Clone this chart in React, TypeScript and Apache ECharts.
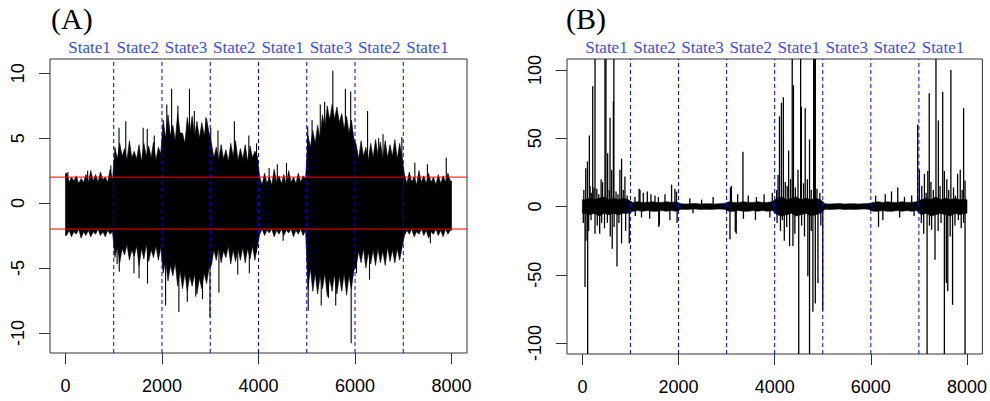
import React, { useEffect, useRef } from "react";
import * as echarts from "echarts";

// ---------- data ----------
const A_BIN = 50; // panel A envelope: one value per 50 time steps
const B_BIN = 100; // panel B band: one value per 100 time steps
const xTicks = [0, 2000, 4000, 6000, 8000];
const aYTicks = [-10, -5, 0, 5, 10];
const bYTicks = [-100, -50, 0, 50, 100];
const boundaries = [1000, 2000, 3000, 4000, 5000, 6000, 7000];
const stateCenters = [500, 1500, 2500, 3500, 4500, 5500, 6500, 7500];
const stateLabels = ["State1", "State2", "State3", "State2", "State1", "State3", "State2", "State1"];
const thresholds = [2, -2];

// Panel A: upper / lower envelope of the dense series
const aHi = [
  2.3, 1.6, 2.0, 1.7, 2.1, 1.5, 1.9, 1.6, 2.2, 1.6, 2.5, 1.7, 2.2, 1.6, 2.4, 1.8, 2.0, 1.6, 2.6, 1.8,
  4.3, 3.4, 4.6, 3.6, 4.2, 3.3, 4.8, 3.5, 4.0, 3.4, 4.5, 3.2, 4.6, 3.6, 4.4, 3.5, 4.7, 3.3, 4.3, 3.8,
  6.4, 5.0, 6.8, 5.2, 6.0, 4.8, 6.9, 5.4, 5.4, 4.6, 6.6, 5.3, 6.7, 5.1, 6.3, 5.0, 6.2, 5.2, 6.5, 5.4,
  4.6, 3.5, 4.3, 3.3, 4.5, 3.4, 4.1, 3.2, 4.6, 3.6, 4.8, 3.3, 4.2, 3.4, 4.5, 3.2, 4.4, 3.5, 4.0, 3.6,
  2.0, 1.4, 2.3, 1.5, 2.0, 1.4, 2.6, 1.6, 2.1, 1.5, 2.2, 1.4, 2.5, 1.6, 2.0, 1.5, 2.3, 1.6, 2.1, 1.9,
  5.2, 4.3, 5.6, 4.6, 6.0, 5.0, 6.8, 5.8, 7.5, 6.4, 7.6, 6.5, 7.4, 6.2, 6.9, 5.7, 6.7, 5.4, 6.4, 5.0,
  4.5, 3.4, 4.8, 3.6, 4.3, 3.3, 4.6, 3.5, 4.9, 3.7, 4.7, 3.4, 4.8, 3.5, 4.5, 3.6, 4.9, 3.4, 4.6, 3.5,
  2.2, 1.5, 2.4, 1.6, 2.0, 1.4, 2.5, 1.6, 2.1, 1.5, 2.3, 1.6, 2.0, 1.4, 2.2, 1.5, 2.1, 1.6, 2.3, 1.7,
];
const aLo = [
  -2.5, -2.1, -2.6, -2.2, -2.4, -2.0, -2.7, -2.2, -2.5, -2.1, -2.6, -2.2, -2.4, -2.0, -2.5, -2.2, -2.6, -2.1, -2.4, -2.2,
  -4.2, -3.3, -4.6, -3.5, -4.0, -3.2, -4.4, -3.6, -4.1, -3.3, -4.8, -3.5, -4.3, -3.2, -4.5, -3.6, -4.2, -3.3, -4.4, -3.4,
  -5.4, -4.4, -6.0, -4.8, -5.6, -4.6, -6.4, -5.2, -6.6, -5.4, -6.8, -5.6, -6.4, -5.5, -7.0, -5.8, -6.6, -5.4, -6.2, -5.0,
  -4.8, -3.6, -4.4, -3.4, -4.6, -3.7, -4.2, -3.3, -4.7, -3.6, -4.5, -3.5, -4.4, -3.4, -4.6, -3.5, -4.3, -3.3, -4.4, -3.4,
  -2.4, -2.0, -2.5, -2.1, -2.3, -2.0, -2.6, -2.1, -2.4, -2.0, -2.5, -2.1, -2.3, -2.0, -2.6, -2.1, -2.4, -2.0, -2.5, -2.1,
  -6.6, -5.0, -6.8, -5.4, -7.0, -5.6, -6.6, -5.4, -7.2, -5.8, -6.8, -5.5, -7.0, -5.6, -6.8, -5.4, -7.1, -5.6, -6.6, -5.2,
  -4.9, -3.7, -4.6, -3.5, -5.0, -3.8, -4.7, -3.6, -4.8, -3.5, -4.6, -3.7, -4.8, -3.4, -4.5, -3.6, -4.6, -3.5, -4.4, -3.4,
  -2.5, -2.1, -2.4, -2.0, -2.6, -2.2, -2.4, -2.0, -2.5, -2.1, -2.7, -2.2, -2.4, -2.0, -2.5, -2.1, -2.6, -2.0, -2.4, -2.1,
];
// Panel A: isolated spikes (time, value)
const aSpikeX = [
  50, 460, 940, 1110, 1250, 1610, 1695, 1840, 2100, 2200, 2330, 2570, 2670, 2910,
  3010, 3160, 3500, 3800, 3960, 4220, 4390, 4580, 5020, 5110, 5280, 5370, 5540,
  5800, 5910, 6260, 6490, 6580, 6970, 7240, 7500, 7890,
  1070, 1115, 1420, 1525, 1700, 2075, 2350, 2525, 2700, 2840, 2995, 3180, 3570,
  3810, 3950, 4510, 5030, 5300, 5450, 5600, 5920, 6030, 6300, 7560,
];
const aSpikeY = [
  2.4, 2.5, 2.9, 5.8, 6.3, 5.8, 5.7, 5.2, 7.6, 8.8, 7.5, 8.8, 7.1, 6.6,
  5.8, 5.6, 6.3, 5.2, 4.6, 2.7, 3.0, 3.1, 5.9, 6.4, 7.6, 7.8, 10.2,
  8.8, 8.6, 7.1, 5.0, 5.3, 5.1, 3.1, 3.0, 3.5,
  -4.7, -5.3, -5.4, -5.8, -6.2, -7.9, -8.4, -7.6, -7.2, -7.4, -8.8, -6.9, -5.5,
  -5.4, -3.8, -2.9, -8.3, -7.9, -7.3, -7.9, -10.8, -5.4, -5.9, -3.1,
];

// Panel B: band around zero
const bHi = [
  5, 6, 5, 6, 7, 5, 6, 5, 6, 5,
  3, 3.5, 3, 3, 3.5, 3, 3, 3.5, 3, 3.5,
  2, 1.8, 2, 2.2, 1.8, 2, 2, 1.8, 2, 2.2,
  3.5, 3, 3, 3.5, 3, 3, 3.5, 3, 3, 3.5,
  6, 7, 5, 6, 7, 5, 6, 5, 6, 5,
  2, 1.8, 2, 2.2, 1.8, 2, 2, 1.8, 2, 2.2,
  3, 3.5, 3, 3.5, 3, 3, 3.5, 3, 3, 3.5,
  5, 6, 5, 7, 5, 6, 5, 6, 5, 5,
];
const bLo = [
  -5, -6, -5, -7, -5, -6, -5, -6, -5, -5,
  -3.5, -3, -3.5, -3, -3.5, -3.5, -3, -3.5, -3, -3.5,
  -2, -2.2, -2, -1.8, -2.2, -2, -2.2, -2, -1.8, -2,
  -3.5, -3.5, -3, -3.5, -3.5, -3, -3.5, -3, -3.5, -3,
  -6, -7, -6, -5, -7, -6, -5, -7, -6, -5,
  -2, -2.2, -2, -1.8, -2.2, -2, -2.2, -2, -1.8, -2,
  -3.5, -3.5, -3, -3.5, -3.5, -3, -3.5, -3, -3.5, -3,
  -6, -5, -7, -6, -5, -6, -7, -5, -6, -5,
];
// Panel B: spikes (time, value); values beyond ±108 are cut by the frame
const bSpikeX = [
  70, 105, 145, 215, 263, 390, 470, 490, 525, 575, 610, 645, 655, 780, 815, 885,
  1180, 1855, 2720, 3080, 3340, 4070, 4100, 4140, 4180, 4290, 4365, 4390, 4485,
  4540, 4555, 4635, 4725, 4810, 4830, 4845, 6560, 6975, 7010, 7115, 7185, 7215,
  7355, 7405, 7495, 7530, 7665, 7805, 7860, 7930, 7960,
  30, 160, 185, 240, 300, 340, 420, 560, 700, 740, 850, 930,
  4040, 4220, 4260, 4330, 4430, 4600, 4680, 4760, 4880, 4940,
  7060, 7150, 7250, 7300, 7440, 7580, 7620, 7720, 7760, 7900,
  1093, 1198, 1267, 1350, 1426, 1510, 1580, 1718, 1924, 1958, 2235, 2480, 3100, 3230,
  3450, 3620, 3780, 3950, 6100, 6300, 6430, 6700, 6850,
  55, 75, 110, 263, 620, 720, 815, 975, 1590, 3070, 3200, 4200, 4310, 4380, 4500,
  4690, 4725, 4795, 4845, 4900, 5000, 6160, 7170, 7265, 7335, 7530, 7570, 7600,
  7700, 7960,
  20, 130, 180, 310, 360, 400, 460, 520, 580, 660, 760, 900,
  4050, 4120, 4160, 4250, 4420, 4560, 4620, 4760, 4960,
  7050, 7100, 7220, 7400, 7460, 7650, 7750, 7820, 7880, 7930,
  1100, 1230, 1400, 1600, 1820, 1970, 2300, 3180, 3350, 3600, 3900, 6250, 6600, 6900,
];
const bSpikeY = [
  28, 33, 52, 88, 150, 20, 150, 150, 39, 65, 27, 77, 150, 27, 35, 22,
  13, 16, 7, 14, 40, 23, 66, 76, 80, 41, 150, 89, 27,
  150, 73, 72, 49, 150, 150, 150, 14, 60, 27, 24, 26, 83,
  150, 63, 84, 26, 100, 24, 27, 72, 19,
  12, 15, 10, 14, 13, 9, 18, 12, 11, 9, 12, 8,
  12, 18, 15, 20, 14, 17, 20, 12, 13, 10,
  15, 10, 18, 12, 15, 20, 12, 14, 8, 12,
  7, 12, 10, 11, 9, 8, 7, 9, 13, 11, 6, 5, 15, 9,
  8, 7, 9, 10, 8, 9, 11, 7, 8,
  -59, -25, -150, -20, -31, -44, -27, -27, -15, -24, -20, -25, -29, -29, -150,
  -51, -150, -77, -71, -56, -76, -15, -150, -17, -39, -150, -56, -62,
  -72, -150,
  -12, -18, -10, -14, -20, -12, -16, -12, -22, -15, -12, -18,
  -12, -18, -10, -15, -20, -14, -22, -18, -14,
  -12, -20, -14, -18, -12, -22, -14, -10, -16, -12,
  -7, -8, -9, -13.5, -10, -12, -5, -18.5, -9, -10, -8, -10, -8, -7,
];

// ---------- chart helpers ----------
const X_MIN = -320;
const X_MAX = 8320;
const A_Y = [-11.55, 11.1];
const B_Y = [-108, 108];
const SANS = "Liberation Sans";
const SERIF = "Liberation Serif";

function envelopeSeries(xi: number, yi: number, hi: number[], lo: number[], bin: number) {
  return {
    type: "custom",
    xAxisIndex: xi,
    yAxisIndex: yi,
    clip: true,
    silent: true,
    data: [[4000, 0]],
    renderItem: (_p: any, api: any) => {
      const n = hi.length;
      const end = n * bin;
      const pts: number[][] = [];
      pts.push(api.coord([0, hi[0]]));
      for (let i = 0; i < n; i++) pts.push(api.coord([i * bin + bin / 2, hi[i]]));
      pts.push(api.coord([end, hi[n - 1]]));
      pts.push(api.coord([end, lo[n - 1]]));
      for (let i = n - 1; i >= 0; i--) pts.push(api.coord([i * bin + bin / 2, lo[i]]));
      pts.push(api.coord([0, lo[0]]));
      return {
        type: "polygon",
        shape: { points: pts },
        style: { fill: "#000", stroke: "#000", lineWidth: 0.6 },
      };
    },
    z: 2,
  };
}

function spikeSeries(xi: number, yi: number, xs: number[], ys: number[], w: number) {
  return {
    type: "custom",
    xAxisIndex: xi,
    yAxisIndex: yi,
    clip: true,
    silent: true,
    data: xs.map((x, i) => [x, ys[i]]),
    renderItem: (_p: any, api: any) => {
      const p0 = api.coord([api.value(0), 0]);
      const p1 = api.coord([api.value(0), api.value(1)]);
      return {
        type: "line",
        shape: { x1: p0[0], y1: p0[1], x2: p1[0], y2: p1[1] },
        style: { stroke: "#000", lineWidth: w },
      };
    },
    z: 3,
  };
}

function vlineSeries(xi: number, yi: number, yr: number[]) {
  return {
    type: "custom",
    xAxisIndex: xi,
    yAxisIndex: yi,
    clip: true,
    silent: true,
    data: boundaries.map((b) => [b, 0]),
    renderItem: (_p: any, api: any) => {
      const p0 = api.coord([api.value(0), yr[0]]);
      const p1 = api.coord([api.value(0), yr[1]]);
      return {
        type: "line",
        shape: { x1: p0[0], y1: p0[1], x2: p1[0], y2: p1[1] },
        style: { stroke: "#0000ff", lineWidth: 1, lineDash: [4, 3] },
      };
    },
    z: 5,
  };
}

function hlineSeries(xi: number, yi: number) {
  return {
    type: "custom",
    xAxisIndex: xi,
    yAxisIndex: yi,
    clip: true,
    silent: true,
    data: thresholds.map((t) => [0, t]),
    renderItem: (_p: any, api: any) => {
      const p0 = api.coord([X_MIN, api.value(1)]);
      const p1 = api.coord([X_MAX, api.value(1)]);
      return {
        type: "line",
        shape: { x1: p0[0], y1: p0[1], x2: p1[0], y2: p1[1] },
        style: { stroke: "#ff0000", lineWidth: 1 },
      };
    },
    z: 6,
  };
}

function bottomAxis(grid: number) {
  return {
    type: "value",
    gridIndex: grid,
    position: "bottom",
    min: X_MIN,
    max: X_MAX,
    axisLine: { show: false, onZero: false },
    splitLine: { show: false },
    axisTick: {
      show: true,
      inside: false,
      length: 11,
      customValues: xTicks,
      lineStyle: { color: "#333", width: 1 },
    },
    axisLabel: {
      show: true,
      customValues: xTicks,
      margin: 24,
      fontFamily: SANS,
      fontSize: 18,
      color: "#000",
      formatter: (v: number) => String(v),
    },
  };
}

function topAxis(grid: number) {
  return {
    type: "value",
    gridIndex: grid,
    position: "top",
    min: X_MIN,
    max: X_MAX,
    axisLine: { show: false, onZero: false },
    splitLine: { show: false },
    axisTick: { show: false },
    axisLabel: {
      show: true,
      customValues: stateCenters,
      margin: 3,
      fontFamily: SERIF,
      fontSize: 17,
      color: "#3a4cf2",
      formatter: (v: number) => stateLabels[stateCenters.indexOf(v)] ?? "",
    },
  };
}

function leftAxis(grid: number, yr: number[], ticks: number[]) {
  return {
    type: "value",
    gridIndex: grid,
    position: "left",
    min: yr[0],
    max: yr[1],
    axisLine: { show: false, onZero: false },
    splitLine: { show: false },
    axisTick: {
      show: true,
      inside: false,
      length: 11,
      customValues: ticks,
      lineStyle: { color: "#333", width: 1 },
    },
    axisLabel: {
      show: true,
      customValues: ticks,
      rotate: 90,
      margin: 23,
      fontFamily: SANS,
      fontSize: 18,
      color: "#000",
      formatter: (v: number) => String(v),
    },
  };
}

export default function App() {
  const ref = useRef<HTMLDivElement>(null);

  useEffect(() => {
    if (!ref.current) return;
    const chart = echarts.init(ref.current, undefined, { renderer: "svg" });
    const gridStyle = { show: true, borderColor: "#333", borderWidth: 1, backgroundColor: "transparent" };
    const titleFont = { fontFamily: SERIF, fontSize: 30, fontWeight: "normal", color: "#000" };
    chart.setOption({
      animation: false,
      backgroundColor: "#fff",
      title: [
        { text: "(A)", left: 51, top: 3, padding: 0, textStyle: titleFont },
        { text: "(B)", left: 566, top: 3, padding: 0, textStyle: titleFont },
      ],
      grid: [
        { left: 50, top: 59, width: 417, height: 294, ...gridStyle },
        { left: 567, top: 59, width: 416, height: 295, ...gridStyle },
      ],
      xAxis: [bottomAxis(0), topAxis(0), bottomAxis(1), topAxis(1)],
      yAxis: [leftAxis(0, A_Y, aYTicks), leftAxis(1, B_Y, bYTicks)],
      series: [
        envelopeSeries(0, 0, aHi, aLo, A_BIN),
        spikeSeries(0, 0, aSpikeX, aSpikeY, 1.1),
        vlineSeries(0, 0, A_Y),
        hlineSeries(0, 0),
        envelopeSeries(2, 1, bHi, bLo, B_BIN),
        spikeSeries(2, 1, bSpikeX, bSpikeY, 1.3),
        vlineSeries(2, 1, B_Y),
      ],
    });
    return () => chart.dispose();
  }, []);

  return (
    <div
      ref={ref}
      style={{ position: "fixed", left: 0, top: 0, width: 990, height: 401, background: "#fff" }}
    />
  );
}
